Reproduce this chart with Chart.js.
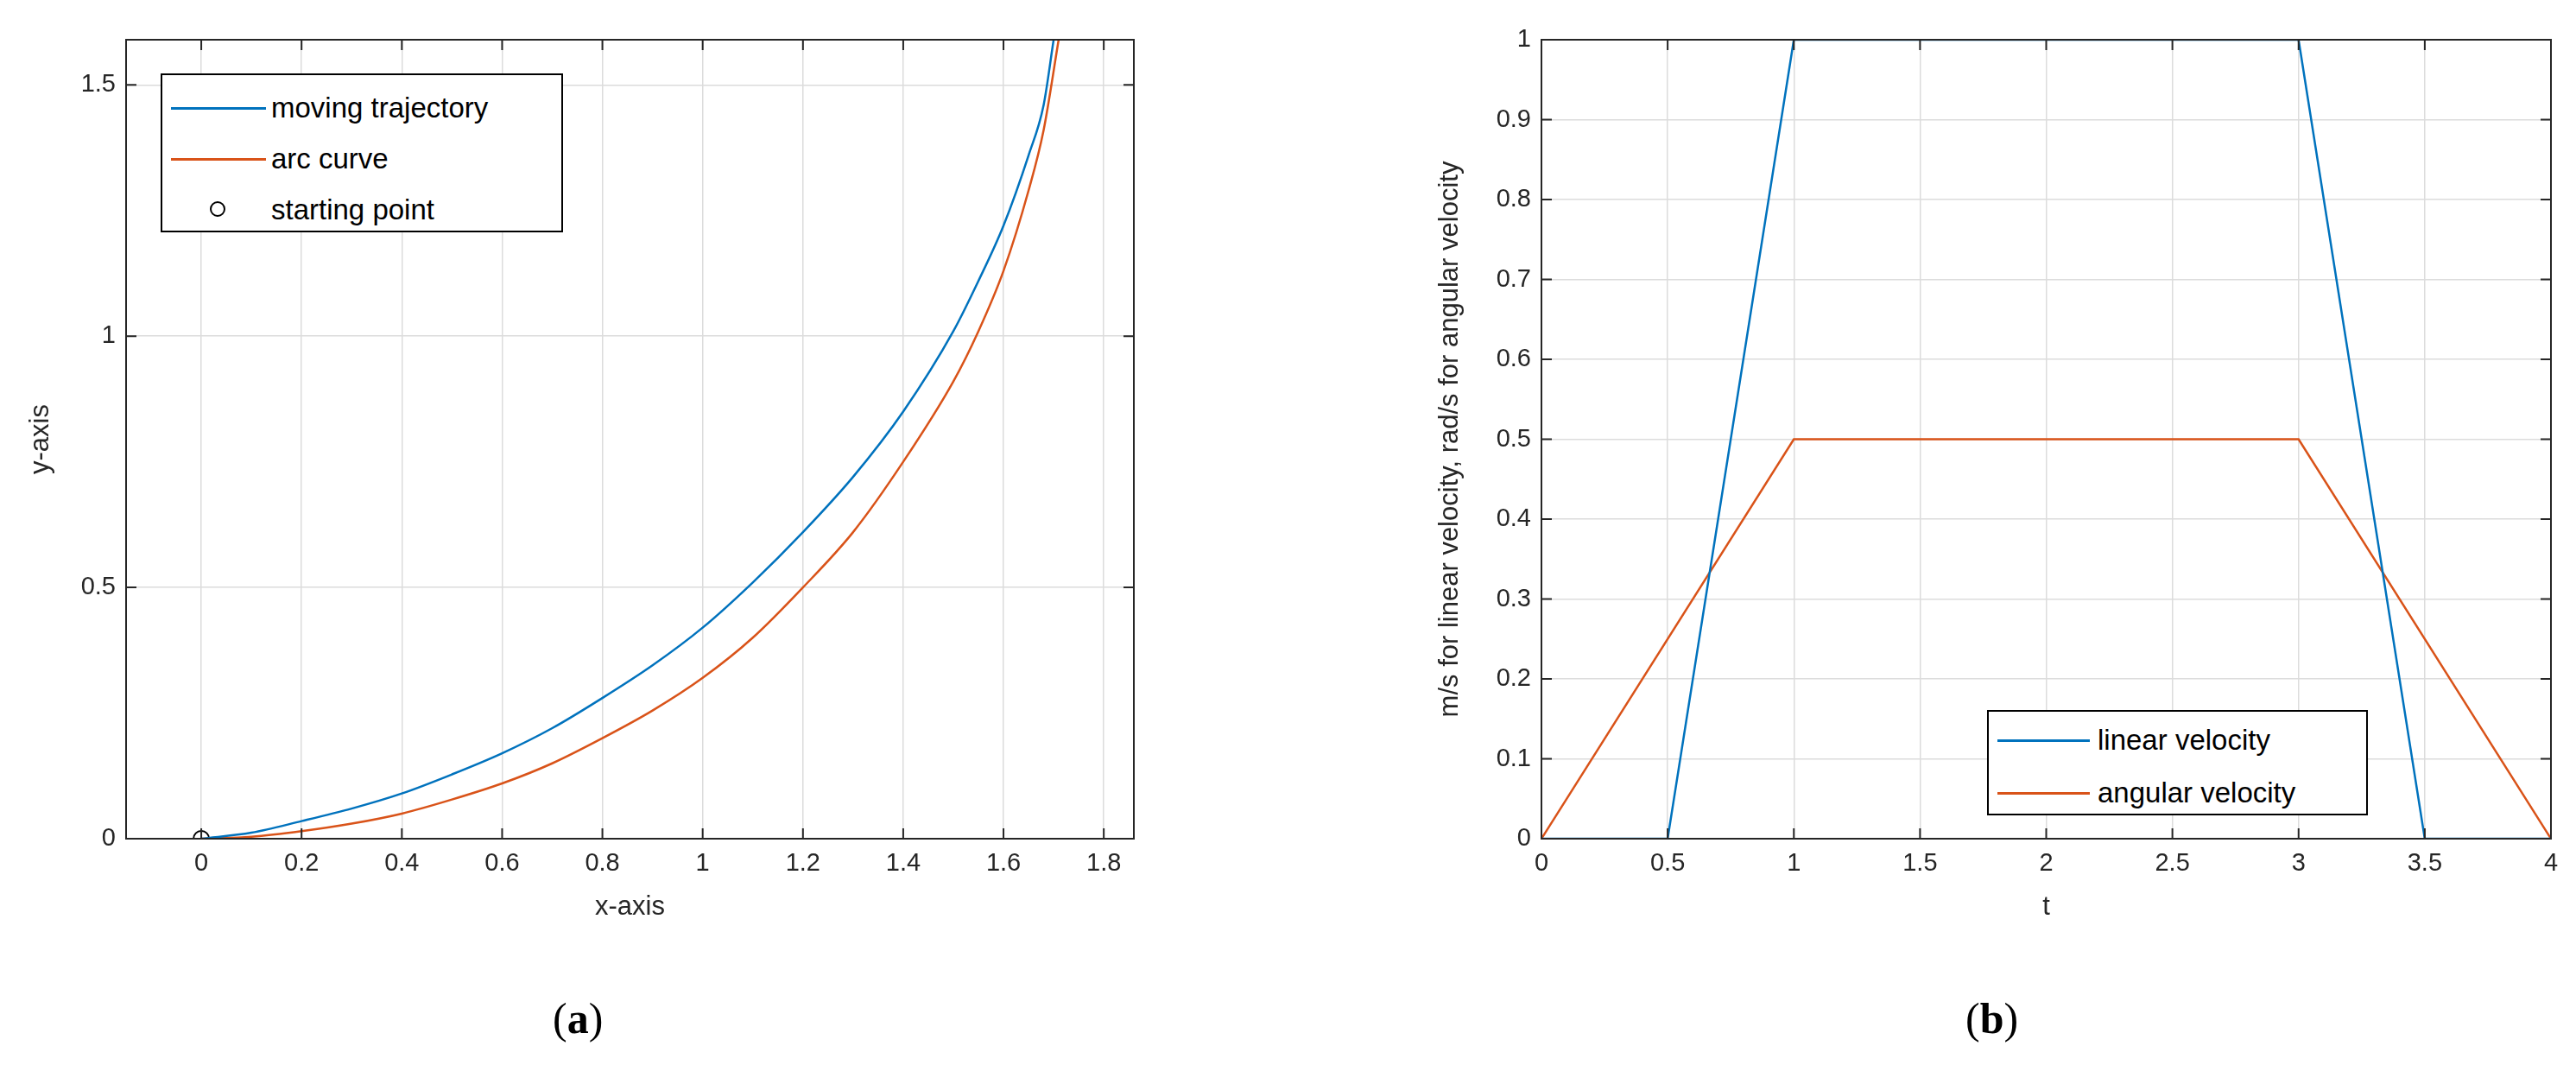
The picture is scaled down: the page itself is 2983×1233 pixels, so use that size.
<!DOCTYPE html>
<html>
<head>
<meta charset="utf-8">
<script src="https://cdn.jsdelivr.net/npm/chart.js@4"></script>
<style>
  body { margin: 0; width: 2983px; height: 1233px; background: #fff; position: relative; overflow: hidden; font-family: 'Liberation Sans', Arial, sans-serif; }
  canvas { position: absolute; top: 0; }
  .legend { position: absolute; border: 2px solid #000; background: #fff; color: #000; font-size: 33px; }
  .row { position: absolute; left: 0; height: 40px; line-height: 40px; white-space: nowrap; }
  .swatch { position: absolute; top: 19px; height: 3px; }
  .circ { position: absolute; top: 10px; width: 18px; height: 18px; border: 2px solid #000; border-radius: 50%; box-sizing: border-box; }
  .cap { position: absolute; top: 1150px; font-family: 'Liberation Serif', 'DejaVu Serif', serif; font-size: 50px; }
  .cap b { font-weight: bold; }
</style>
</head>
<body>
<canvas id="chart-a"></canvas>
<canvas id="chart-b"></canvas>

<div class="legend" style="left:186px;top:85px;width:462px;height:180px;">
  <div class="row" style="top:18px;"><div class="swatch" style="left:10px;width:110px;background:#0072BD"></div><span style="position:absolute;left:126px">moving trajectory</span></div>
  <div class="row" style="top:77px;"><div class="swatch" style="left:10px;width:110px;background:#D95319"></div><span style="position:absolute;left:126px">arc curve</span></div>
  <div class="row" style="top:136px;"><div class="circ" style="left:55px"></div><span style="position:absolute;left:126px">starting point</span></div>
</div>
<div class="legend" style="left:2301px;top:822px;width:437px;height:118px;">
  <div class="row" style="top:13px;"><div class="swatch" style="left:10px;width:107px;background:#0072BD"></div><span style="position:absolute;left:126px">linear velocity</span></div>
  <div class="row" style="top:74px;"><div class="swatch" style="left:10px;width:107px;background:#D95319"></div><span style="position:absolute;left:126px">angular velocity</span></div>
</div>

<div class="cap" style="left:640px;">(<b>a</b>)</div>
<div class="cap" style="left:2276px;">(<b>b</b>)</div>

<script>
// (a) trajectory
const trajX = [0, 0.1, 0.2, 0.3, 0.4, 0.5, 0.6, 0.7, 0.8, 0.9, 1.0, 1.1, 1.2, 1.3, 1.4, 1.5, 1.55, 1.6, 1.65, 1.68, 1.70];
const trajY = [0, 0.012, 0.035, 0.06, 0.09, 0.128, 0.17, 0.22, 0.28, 0.345, 0.42, 0.51, 0.61, 0.72, 0.85, 1.01, 1.11, 1.22, 1.36, 1.46, 1.59];
const arcX = [0, 0.1, 0.2, 0.3, 0.4, 0.5, 0.6, 0.7, 0.8, 0.9, 1.0, 1.1, 1.2, 1.3, 1.4, 1.5, 1.55, 1.6, 1.65, 1.68, 1.71];
const arcY = [0, 0.004, 0.015, 0.03, 0.05, 0.078, 0.11, 0.15, 0.2, 0.255, 0.32, 0.4, 0.5, 0.61, 0.75, 0.91, 1.01, 1.13, 1.29, 1.41, 1.59];
const startX = [0];
const startY = [0];
const xTicksA = [0, 0.2, 0.4, 0.6, 0.8, 1, 1.2, 1.4, 1.6, 1.8];
const yTicksA = [0, 0.5, 1, 1.5];

// (b) velocities
const timeT = [0, 0.5, 1, 3, 3.5, 4];
const linearV = [0, 0, 1, 1, 0, 0];
const timeAng = [0, 1, 3, 4];
const angularV = [0, 0.5, 0.5, 0];
const xTicksB = [0, 0.5, 1, 1.5, 2, 2.5, 3, 3.5, 4];
const yTicksB = [0, 0.1, 0.2, 0.3, 0.4, 0.5, 0.6, 0.7, 0.8, 0.9, 1];

const BLUE = '#0072BD';
const ORANGE = '#D95319';
const FONT = "'Liberation Sans', Arial, sans-serif";

const pts = (xs, ys) => xs.map((x, i) => ({ x, y: ys[i] }));

// box around the plot area with small inward ticks, matlab style
const boxPlugin = {
  id: 'box',
  afterDraw(chart) {
    const { ctx, chartArea: a, scales } = chart;
    ctx.save();
    ctx.strokeStyle = '#262626';
    ctx.lineWidth = 2;
    ctx.strokeRect(a.left, a.top, a.right - a.left, a.bottom - a.top);
    ctx.beginPath();
    scales.x.ticks.forEach((t) => {
      const px = scales.x.getPixelForValue(t.value);
      ctx.moveTo(px, a.bottom); ctx.lineTo(px, a.bottom - 12);
      ctx.moveTo(px, a.top); ctx.lineTo(px, a.top + 12);
    });
    scales.y.ticks.forEach((t) => {
      const py = scales.y.getPixelForValue(t.value);
      ctx.moveTo(a.left, py); ctx.lineTo(a.left + 12, py);
      ctx.moveTo(a.right, py); ctx.lineTo(a.right - 12, py);
    });
    ctx.stroke();
    ctx.restore();
  },
};

function axis(min, max, ticks, title, size) {
  return {
    type: 'linear',
    min, max,
    afterBuildTicks: (s) => { s.ticks = ticks.map((v) => ({ value: v })); },
    afterFit: size,
    grid: { color: '#dcdcdc', lineWidth: 1.5, drawTicks: false },
    border: { display: false },
    ticks: { color: '#262626', font: { family: FONT, size: 29 }, padding: 12, callback: (v) => String(v) },
    title: { display: true, text: title, color: '#262626', font: { family: FONT, size: 31 }, padding: 6 },
  };
}

function makeChart(id, left, width, datasets, xAxis, yAxis, pad) {
  const el = document.getElementById(id);
  el.style.left = left + 'px';
  el.style.width = width + 'px';
  el.style.height = '1100px';
  el.width = width;
  el.height = 1100;
  return new Chart(el, {
    type: 'scatter',
    data: { datasets },
    options: {
      responsive: false,
      animation: false,
      devicePixelRatio: 1,
      layout: { padding: pad },
      plugins: { legend: { display: false }, tooltip: { enabled: false } },
      scales: { x: xAxis, y: yAxis },
    },
    plugins: [boxPlugin],
  });
}

const line = (data, color, smooth) => ({
  data, showLine: true, borderColor: color, borderWidth: 2.5, pointRadius: 0, fill: false,
  cubicInterpolationMode: smooth ? 'monotone' : 'default', tension: 0,
});

makeChart('chart-a', 0, 1340, [
  line(pts(trajX, trajY), BLUE, true),
  line(pts(arcX, arcY), ORANGE, true),
  { data: pts(startX, startY), pointRadius: 9, pointBorderWidth: 2, pointBorderColor: '#000', pointBackgroundColor: 'rgba(0,0,0,0)', showLine: false },
],
  axis(-0.15, 1.86, xTicksA, 'x-axis', (s) => { s.height = 104; }),
  axis(0, 1.59, yTicksA, 'y-axis', (s) => { s.width = 123; }),
  { top: 46, right: 27, left: 23, bottom: 25 });

makeChart('chart-b', 1500, 1483, [
  line(pts(timeT, linearV), BLUE, false),
  line(pts(timeAng, angularV), ORANGE, false),
],
  axis(0, 4, xTicksB, 't', (s) => { s.height = 104; }),
  axis(0, 1, yTicksB, 'm/s for linear velocity, rad/s for angular velocity', (s) => { s.width = 130; }),
  { top: 46, right: 29, left: 155, bottom: 25 });
</script>
</body>
</html>
